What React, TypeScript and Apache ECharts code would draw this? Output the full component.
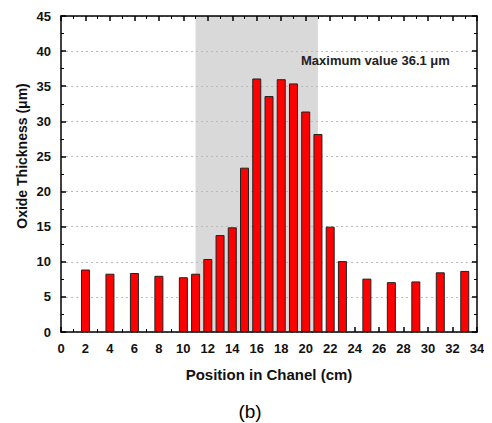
import React, { useEffect, useRef } from "react";
import * as echarts from "echarts";

const positions = [2, 4, 6, 8, 10, 11, 12, 13, 14, 15, 16, 17, 18, 19, 20, 21, 22, 23, 25, 27, 29, 31, 33];
const thickness = [8.9, 8.3, 8.4, 8.0, 7.8, 8.3, 10.4, 13.8, 14.9, 23.4, 36.1, 33.6, 36.0, 35.4, 31.4, 28.2, 15.0, 10.1, 7.6, 7.1, 7.2, 8.5, 8.7];
const shadedRange = [11, 21];
const annotation = "Maximum value 36.1 μm";
const xTitle = "Position in Chanel (cm)";
const yTitle = "Oxide Thickness (μm)";
const caption = "(b)";

const FONT = "'Liberation Sans', Arial, sans-serif";

export default function App() {
  const ref = useRef<HTMLDivElement>(null);
  useEffect(() => {
    if (!ref.current) return;
    const chart = echarts.init(ref.current, undefined, { renderer: "svg" });
    const axisCommon = {
      axisLine: { show: true, onZero: false, lineStyle: { color: "#000", width: 1.5 } },
      axisTick: { show: true, inside: true, length: 5, lineStyle: { color: "#000", width: 1.5 } },
      minorTick: { show: true, splitNumber: 2, length: 3, lineStyle: { color: "#000", width: 1 } },
    };
    chart.setOption({
      animation: false,
      backgroundColor: "#fff",
      textStyle: { fontFamily: FONT },
      grid: { left: 53, right: 15, top: 8, bottom: 91 },
      xAxis: [
        {
          type: "value", min: 0, max: 34, interval: 2, position: "bottom",
          ...axisCommon,
          axisLabel: { color: "#111", fontWeight: "bold", fontSize: 13, fontFamily: FONT, margin: 10 },
          splitLine: { show: false },
          name: xTitle, nameLocation: "middle", nameGap: 35,
          nameTextStyle: { color: "#111", fontWeight: "bold", fontSize: 15, fontFamily: FONT },
        },
        {
          type: "value", min: 0, max: 34, interval: 2, position: "top",
          ...axisCommon,
          axisLabel: { show: false }, splitLine: { show: false },
        },
      ],
      yAxis: [
        {
          type: "value", min: 0, max: 45, interval: 5, position: "left",
          ...axisCommon,
          axisLabel: { color: "#111", fontWeight: "bold", fontSize: 13, fontFamily: FONT, margin: 10 },
          splitLine: { show: true, lineStyle: { color: "#bbb", type: [2, 3], width: 1 } },
        },
        {
          type: "value", min: 0, max: 45, interval: 5, position: "right",
          ...axisCommon,
          axisLabel: { show: false }, splitLine: { show: false },
        },
      ],
      series: [
        {
          type: "line",
          xAxisIndex: 0, yAxisIndex: 0,
          data: [],
          z: -1,
          zlevel: 0,
          markArea: {
            silent: true,
            z: -1,
            itemStyle: { color: "#d9d9d9" },
            data: [[{ xAxis: shadedRange[0] }, { xAxis: shadedRange[1] }]],
          },
        },
        {
          type: "bar",
          xAxisIndex: 0, yAxisIndex: 0,
          data: positions.map((p, i) => [p, thickness[i]]),
          barWidth: 9,
          itemStyle: { color: "#ff0000", borderColor: "#222", borderWidth: 1 },
          z: 3,
        },
      ],
      graphic: [
        {
          type: "text", x: 293, y: 52, z: 100,
          style: { text: annotation, fill: "#222", font: `bold 13px ${FONT}`, textVerticalAlign: "middle" },
        },
        {
          type: "text", x: 14, y: 148, z: 100, rotation: Math.PI / 2,
          style: { text: yTitle, fill: "#111", font: `bold 14px ${FONT}`, textAlign: "center", textVerticalAlign: "middle" },
        },
        {
          type: "text", x: 242, y: 403, z: 100,
          style: { text: caption, fill: "#000", font: `19px ${FONT}`, textAlign: "center", textVerticalAlign: "middle" },
        },
      ],
    });
    return () => chart.dispose();
  }, []);
  return <div ref={ref} style={{ width: 484, height: 415 }} />;
}
